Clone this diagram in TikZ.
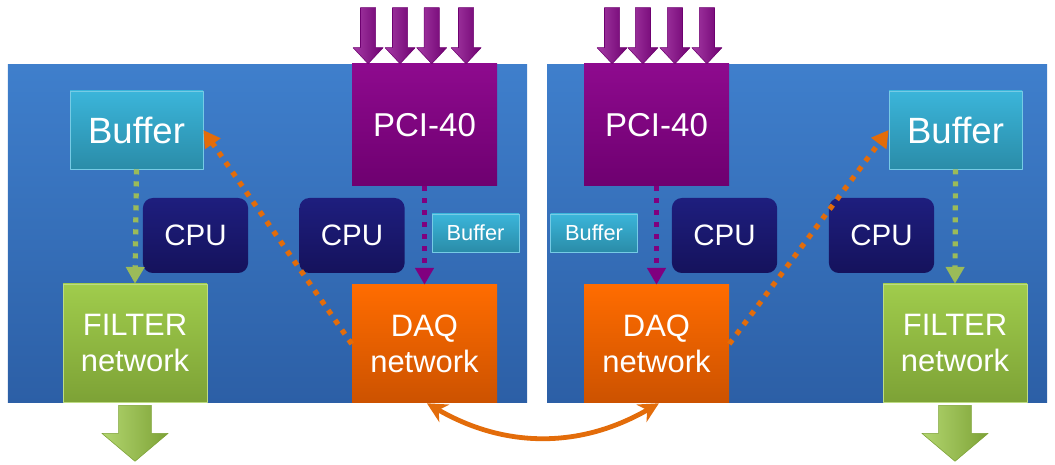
\documentclass[tikz,border=0pt]{standalone}
\usepackage{fontspec}
\setmainfont{Liberation Sans}
\usetikzlibrary{arrows.meta,calc,positioning}
\definecolor{panelTop}{HTML}{3F7FCC}
\definecolor{panelBot}{HTML}{2C5FA6}
\definecolor{bufTop}{HTML}{3BB5DA}
\definecolor{bufBot}{HTML}{2A8CA8}
\definecolor{cpuTop}{HTML}{1E1E7E}
\definecolor{cpuBot}{HTML}{15125C}
\definecolor{filTop}{HTML}{A0CC4C}
\definecolor{filBot}{HTML}{7DA236}
\definecolor{daqTop}{HTML}{FF6C00}
\definecolor{daqBot}{HTML}{CC5200}
\definecolor{pciTop}{HTML}{8E0A8E}
\definecolor{pciBot}{HTML}{6E0070}
\definecolor{flowGreen}{HTML}{9BBB59}
\definecolor{flowPurple}{HTML}{80007F}
\definecolor{flowOrange}{HTML}{E36C0A}

\begin{document}
\begin{tikzpicture}[line join=round,text=white,font=\fontsize{22}{26}\selectfont,
  panel/.style={top color=panelTop,bottom color=panelBot},
  blk/.style={align=center,inner sep=0pt},
  bufbox/.style={blk,top color=bufTop,bottom color=bufBot,draw=bufTop!70!white,thin,minimum width=3.325cm,minimum height=1.95cm,font=\fontsize{26}{30}\selectfont},
  sbufbox/.style={blk,top color=bufTop,bottom color=bufBot,draw=bufTop!70!white,thin,minimum width=2.175cm,minimum height=0.95cm,font=\fontsize{15.5}{18}\selectfont},
  cpubox/.style={blk,top color=cpuTop,bottom color=cpuBot,rounded corners=0.25cm,minimum width=2.63cm,minimum height=1.875cm,font=\fontsize{21}{26}\selectfont},
  filbox/.style={blk,top color=filTop,bottom color=filBot,draw=filTop!70!white,thin,minimum width=3.6cm,minimum height=2.95cm},
  daqbox/.style={blk,top color=daqTop,bottom color=daqBot,minimum width=3.625cm,minimum height=2.95cm},
  pcibox/.style={blk,top color=pciTop,bottom color=pciBot,minimum width=3.625cm,minimum height=3.05cm,font=\fontsize{23.5}{28}\selectfont},
  flow/.style={line width=0.13cm,dash pattern=on 0.13cm off 0.17cm,-{Triangle[length=0.42cm,width=0.45cm]}},
  pipe/.style={left color=pciTop!80!white,right color=pciBot,draw=pciBot,thin},
  outarrow/.style={left color=filTop!80!white,right color=filBot,draw=filBot,thin}]
\useasboundingbox (0,0) rectangle (26.375,11.6);
% --- panels
\shade[panel] (0.2,1.525) rectangle (13.175,9.975);
\shade[panel] (13.675,1.525) rectangle (26.175,9.975);
% --- left node
\node[bufbox] (bufL) at (3.4125,8.35) {Buffer};
\node[cpubox] (cpuLa) at (4.8875,5.7125) {CPU};
\node[filbox] (filL) at (3.375,3.025) {FILTER\\network};
\node[pcibox] (pciL) at (10.6125,8.475) {PCI-40};
\node[cpubox] (cpuLb) at (8.8,5.7125) {CPU};
\node[sbufbox] (sbufL) at (11.8875,5.775) {Buffer};
\node[daqbox] (daqL) at (10.6125,3.0) {DAQ\\network};
% --- right node
\node[pcibox] (pciR) at (16.4125,8.475) {PCI-40};
\node[sbufbox] (sbufR) at (14.85,5.775) {Buffer};
\node[cpubox] (cpuRa) at (18.1125,5.7125) {CPU};
\node[cpubox] (cpuRb) at (22.0375,5.7125) {CPU};
\node[bufbox] (bufR) at (23.8875,8.35) {Buffer};
\node[filbox] (filR) at (23.875,3.025) {FILTER\\network};
\node[daqbox] (daqR) at (16.4125,3.0) {DAQ\\network};
% input links into PCI-40
\foreach \dx in {-1.41,-0.61,0.18,1.04}{\shade[pipe] ($(pciL.north)+(\dx,0)$) -- ++(-0.375,0.4) -- ++(0.185,0) -- ++(0,1.0) -- ++(0.38,0) -- ++(0,-1.0) -- ++(0.185,0) -- cycle;}
\foreach \dx in {-1.11,-0.34,0.46,1.26}{\shade[pipe] ($(pciR.north)+(\dx,0)$) -- ++(-0.375,0.4) -- ++(0.185,0) -- ++(0,1.0) -- ++(0.38,0) -- ++(0,-1.0) -- ++(0.185,0) -- cycle;}
% output of the filter farms
\foreach \n in {filL,filR}{\shade[outarrow] ($(\n.south)+(0,-1.475)$) -- ++(-0.83,0.7) -- ++(0.42,0) -- ++(0,0.7) -- ++(0.82,0) -- ++(0,-0.7) -- ++(0.42,0) -- cycle;}
% data flow
\draw[flow,flowPurple] (pciL.south) -- (daqL.north);
\draw[flow,flowPurple] (pciR.south) -- (daqR.north);
\draw[flow,flowGreen] (bufL.south) -- (filL.north);
\draw[flow,flowGreen] (bufR.south) -- (filR.north);
\draw[flow,flowOrange] (daqL.west) -- (bufL.east);
\draw[flow,flowOrange] (daqR.east) -- (bufR.west);
% event building link
\draw[line width=0.12cm,flowOrange,{Stealth[length=0.5cm,width=0.5cm]}-{Stealth[length=0.5cm,width=0.5cm]}] ([xshift=0.06cm]daqL.south) to[bend right=30] ([xshift=0.06cm]daqR.south);
\end{tikzpicture}
\end{document}
